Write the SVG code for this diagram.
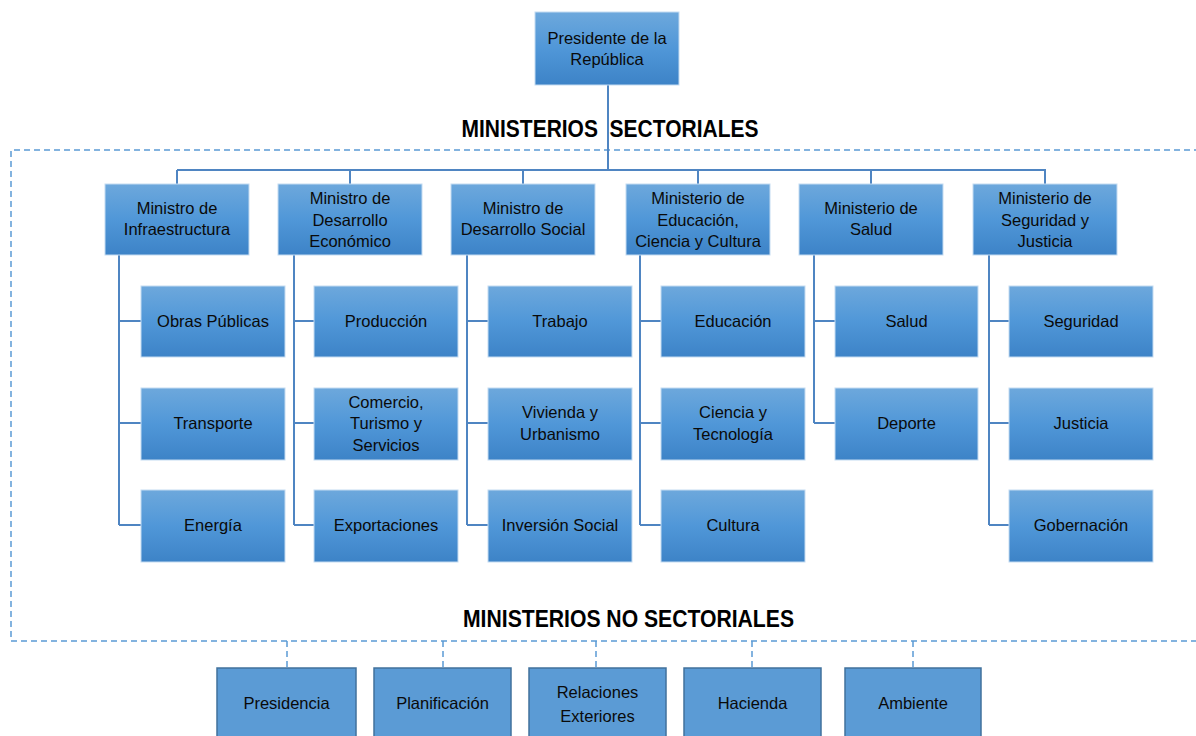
<svg xmlns="http://www.w3.org/2000/svg" width="1196" height="736" viewBox="0 0 1196 736">
<defs>
<linearGradient id="g" x1="0" y1="0" x2="0" y2="1">
<stop offset="0" stop-color="#6da8dc"/>
<stop offset="0.5" stop-color="#5097d8"/>
<stop offset="1" stop-color="#3d83c7"/>
</linearGradient>
<style>
.b{fill:url(#g);stroke:#c4dbf1;stroke-width:1}
.f{fill:#5b9bd5;stroke:#41719c;stroke-width:1.5}
.t{font-family:"Liberation Sans",Arial,sans-serif;font-size:16.5px;fill:#0a0a0a;text-anchor:middle}
.h{font-family:"Liberation Sans",Arial,sans-serif;font-size:23px;font-weight:bold;fill:#000;text-anchor:middle;white-space:pre}
.c{fill:none;stroke:#4f85c2;stroke-width:2}
.d{fill:none;stroke:#5b9bd5;stroke-width:1.5;stroke-dasharray:6 4}
</style>
</defs>
<rect width="1196" height="736" fill="#fff"/>

<g id="frame">
<path class="d" d="M1200,150 H11 V641 H1200"/>
<text class="h" x="610" y="137" textLength="297" lengthAdjust="spacingAndGlyphs">MINISTERIOS  SECTORIALES</text>
<text class="h" x="628.5" y="627" textLength="331" lengthAdjust="spacingAndGlyphs">MINISTERIOS NO SECTORIALES</text>
</g>

<g id="connectors">
<path class="c" d="M608,85 V170 M177,170 H1046 M177,170 V184 M350,170 V184 M523,170 V184 M698,170 V184 M871,170 V184 M1045,170 V184"/>
<path class="c" d="M119,255 V525 M119,321 H141 M119,423 H141 M119,525 H141"/>
<path class="c" d="M294,255 V525 M294,321 H314 M294,423 H314 M294,525 H314"/>
<path class="c" d="M467,255 V525 M467,321 H488 M467,423 H488 M467,525 H488"/>
<path class="c" d="M640,255 V525 M640,321 H661 M640,423 H661 M640,525 H661"/>
<path class="c" d="M814,255 V423 M814,321 H835 M814,423 H835"/>
<path class="c" d="M989,255 V525 M989,321 H1009 M989,423 H1009 M989,525 H1009"/>
<path class="d" d="M287,641 V668 M443,641 V668 M596,641 V668 M752,641 V668 M913,641 V668"/>
</g>

<g id="presidente"><rect class="b" x="535" y="12" width="144" height="73"/><text class="t" x="607" y="44">Presidente de la</text><text class="t" x="607" y="65">República</text></g>

<g id="min-infraestructura"><rect class="b" x="105" y="184" width="144" height="71"/><text class="t" x="177" y="214">Ministro de</text><text class="t" x="177" y="235">Infraestructura</text></g>
<g id="min-desarrollo-economico"><rect class="b" x="278" y="184" width="144" height="71"/><text class="t" x="350" y="204">Ministro de</text><text class="t" x="350" y="225.5">Desarrollo</text><text class="t" x="350" y="247">Económico</text></g>
<g id="min-desarrollo-social"><rect class="b" x="451" y="184" width="144" height="71"/><text class="t" x="523" y="214">Ministro de</text><text class="t" x="523" y="235">Desarrollo Social</text></g>
<g id="min-educacion"><rect class="b" x="626" y="184" width="144" height="71"/><text class="t" x="698" y="204">Ministerio de</text><text class="t" x="698" y="225.5">Educación,</text><text class="t" x="698" y="247">Ciencia y Cultura</text></g>
<g id="min-salud"><rect class="b" x="799" y="184" width="144" height="71"/><text class="t" x="871" y="214">Ministerio de</text><text class="t" x="871" y="235">Salud</text></g>
<g id="min-seguridad"><rect class="b" x="973" y="184" width="144" height="71"/><text class="t" x="1045" y="204">Ministerio de</text><text class="t" x="1045" y="225.5">Seguridad y</text><text class="t" x="1045" y="247">Justicia</text></g>

<g id="obras-publicas"><rect class="b" x="141" y="286" width="144" height="71"/><text class="t" x="213" y="327">Obras Públicas</text></g>
<g id="transporte"><rect class="b" x="141" y="388" width="144" height="72"/><text class="t" x="213" y="429">Transporte</text></g>
<g id="energia"><rect class="b" x="141" y="490" width="144" height="72"/><text class="t" x="213" y="531">Energía</text></g>

<g id="produccion"><rect class="b" x="314" y="286" width="144" height="71"/><text class="t" x="386" y="327">Producción</text></g>
<g id="comercio"><rect class="b" x="314" y="388" width="144" height="72"/><text class="t" x="386" y="407.5">Comercio,</text><text class="t" x="386" y="429">Turismo y</text><text class="t" x="386" y="450.5">Servicios</text></g>
<g id="exportaciones"><rect class="b" x="314" y="490" width="144" height="72"/><text class="t" x="386" y="531">Exportaciones</text></g>

<g id="trabajo"><rect class="b" x="488" y="286" width="144" height="71"/><text class="t" x="560" y="327">Trabajo</text></g>
<g id="vivienda"><rect class="b" x="488" y="388" width="144" height="72"/><text class="t" x="560" y="418">Vivienda y</text><text class="t" x="560" y="439.5">Urbanismo</text></g>
<g id="inversion-social"><rect class="b" x="488" y="490" width="144" height="72"/><text class="t" x="560" y="531">Inversión Social</text></g>

<g id="educacion"><rect class="b" x="661" y="286" width="144" height="71"/><text class="t" x="733" y="327">Educación</text></g>
<g id="ciencia"><rect class="b" x="661" y="388" width="144" height="72"/><text class="t" x="733" y="418">Ciencia y</text><text class="t" x="733" y="439.5">Tecnología</text></g>
<g id="cultura"><rect class="b" x="661" y="490" width="144" height="72"/><text class="t" x="733" y="531">Cultura</text></g>

<g id="salud"><rect class="b" x="835" y="286" width="143" height="71"/><text class="t" x="906.5" y="327">Salud</text></g>
<g id="deporte"><rect class="b" x="835" y="388" width="143" height="72"/><text class="t" x="906.5" y="429">Deporte</text></g>

<g id="seguridad"><rect class="b" x="1009" y="286" width="144" height="71"/><text class="t" x="1081" y="327">Seguridad</text></g>
<g id="justicia"><rect class="b" x="1009" y="388" width="144" height="72"/><text class="t" x="1081" y="429">Justicia</text></g>
<g id="gobernacion"><rect class="b" x="1009" y="490" width="144" height="72"/><text class="t" x="1081" y="531">Gobernación</text></g>

<g id="presidencia"><rect class="f" x="217" y="668" width="139" height="74"/><text class="t" x="286.5" y="709">Presidencia</text></g>
<g id="planificacion"><rect class="f" x="374" y="668" width="137" height="74"/><text class="t" x="442.5" y="709">Planificación</text></g>
<g id="relaciones-exteriores"><rect class="f" x="529" y="668" width="137" height="74"/><text class="t" x="597.5" y="698">Relaciones</text><text class="t" x="597.5" y="722">Exteriores</text></g>
<g id="hacienda"><rect class="f" x="684" y="668" width="137" height="74"/><text class="t" x="752.5" y="709">Hacienda</text></g>
<g id="ambiente"><rect class="f" x="845" y="668" width="136" height="74"/><text class="t" x="913" y="709">Ambiente</text></g>
</svg>
